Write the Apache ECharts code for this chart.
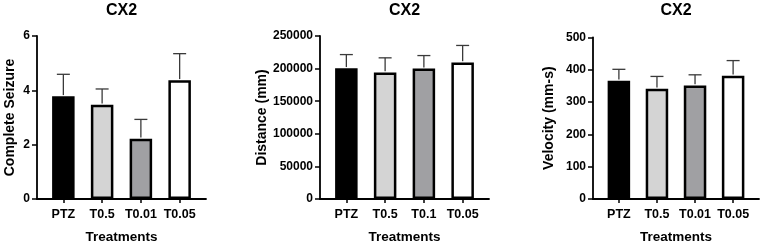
<!DOCTYPE html>
<html>
<head>
<meta charset="utf-8">
<script src="https://cdn.jsdelivr.net/npm/echarts@6/dist/echarts.min.js"></script>
<style>
  html, body { margin: 0; padding: 0; background: #fff; }
  #chart { width: 763px; height: 249px; }
</style>
</head>
<body>
<div id="chart"></div>
<script>
// categories per panel
const seizureCats = ['PTZ', 'T0.5', 'T0.01', 'T0.05']
const distanceCats = ['PTZ', 'T0.5', 'T0.1', 'T0.05']
const velocityCats = ['PTZ', 'T0.5', 'T0.01', 'T0.05']

// means and upper error (SD/SEM)
const seizureMean = [3.78, 3.47, 2.22, 4.37]
const seizureErr = [0.81, 0.58, 0.71, 0.98]
const distanceMean = [200500, 194000, 200000, 209500]
const distanceErr = [21000, 22500, 20000, 26000]
const velocityMean = [366, 341, 351, 381]
const velocityErr = [35, 38, 33, 47]

const barColors = ['#000000', '#d4d4d4', '#a0a0a3', '#ffffff']
const FONT = '"Liberation Sans", Arial, sans-serif'

const chart = echarts.init(document.getElementById('chart'))

const panels = [
  { cats: seizureCats, mean: seizureMean, err: seizureErr, name: 'Complete Seizure', max: 6, interval: 2, nameGap: 20,
    grid: { left: 37, top: 36, width: 169, height: 166.7 } },
  { cats: distanceCats, mean: distanceMean, err: distanceErr, name: 'Distance (mm)', max: 250000, interval: 50000, nameGap: 51,
    grid: { left: 320, top: 36, width: 169, height: 166.7 } },
  { cats: velocityCats, mean: velocityMean, err: velocityErr, name: 'Velocity (mm-s)', max: 500, interval: 100, nameGap: 37,
    grid: { left: 593, top: 37.3, width: 166, height: 167.4 } },
]

const grid = [], xAxis = [], yAxis = [], series = [], graphic = []

panels.forEach((p, i) => {
  grid.push(p.grid)
  xAxis.push({
    type: 'value',
    gridIndex: i,
    min: -0.68,
    max: 3.68,
    name: 'Treatments',
    nameLocation: 'middle',
    nameGap: 31,
    nameTextStyle: { fontFamily: FONT, fontWeight: 'bold', fontSize: 13.5, color: '#000' },
    splitLine: { show: false },
    axisLine: { show: true, onZero: false, lineStyle: { color: '#000', width: 1.8 } },
    axisTick: { show: true, length: 4, customValues: [0, 1, 2, 3], lineStyle: { color: '#000', width: 1.5 } },
    axisLabel: {
      customValues: [0, 1, 2, 3],
      margin: 9,
      formatter: (v) => p.cats[Math.round(v)],
      fontFamily: FONT, fontWeight: 'bold', fontSize: 12.5, color: '#000',
    },
  })
  yAxis.push({
    type: 'value',
    gridIndex: i,
    min: 0,
    max: p.max,
    interval: p.interval,
    name: p.name,
    nameLocation: 'middle',
    nameGap: p.nameGap,
    nameTextStyle: { fontFamily: FONT, fontWeight: 'bold', fontSize: 14, color: '#000' },
    splitLine: { show: false },
    axisLine: { show: true, onZero: false, lineStyle: { color: '#000', width: 1.8 } },
    axisTick: { show: true, length: 5, lineStyle: { color: '#000', width: 1.5 } },
    axisLabel: {
      margin: 7,
      formatter: (v) => String(v),
      fontFamily: FONT, fontWeight: 'bold', fontSize: 12, color: '#000',
    },
  })
  series.push({
    type: 'bar',
    xAxisIndex: i,
    yAxisIndex: i,
    barWidth: 22.5,
    data: p.mean.map((v, k) => ({
      value: [k, v],
      itemStyle: { color: barColors[k], borderColor: '#000', borderWidth: 2.5 },
    })),
    z: 2,
  })
  series.push({
    type: 'custom',
    xAxisIndex: i,
    yAxisIndex: i,
    z: 3,
    data: p.mean.map((v, k) => [k, v, v + p.err[k]]),
    renderItem: (params, api) => {
      const base = api.coord([api.value(0), api.value(1)])
      const top = api.coord([api.value(0), api.value(2)])
      const style = { stroke: '#3a3a3a', lineWidth: 1.3 }
      return {
        type: 'group',
        children: [
          { type: 'line', shape: { x1: top[0], y1: base[1] - 1.2, x2: top[0], y2: top[1] }, style },
          { type: 'line', shape: { x1: top[0] - 6.5, y1: top[1], x2: top[0] + 6.5, y2: top[1] }, style },
        ],
      }
    },
  })
  graphic.push({
    type: 'text',
    x: p.grid.left + p.grid.width / 2,
    y: 11,
    style: {
      text: 'CX2',
      align: 'center',
      verticalAlign: 'middle',
      fontFamily: FONT,
      fontWeight: 'bold',
      fontSize: 16,
      fill: '#000',
    },
  })
})

chart.setOption({
  animation: false,
  backgroundColor: '#fff',
  grid,
  xAxis,
  yAxis,
  series,
  graphic,
})
</script>
</body>
</html>
